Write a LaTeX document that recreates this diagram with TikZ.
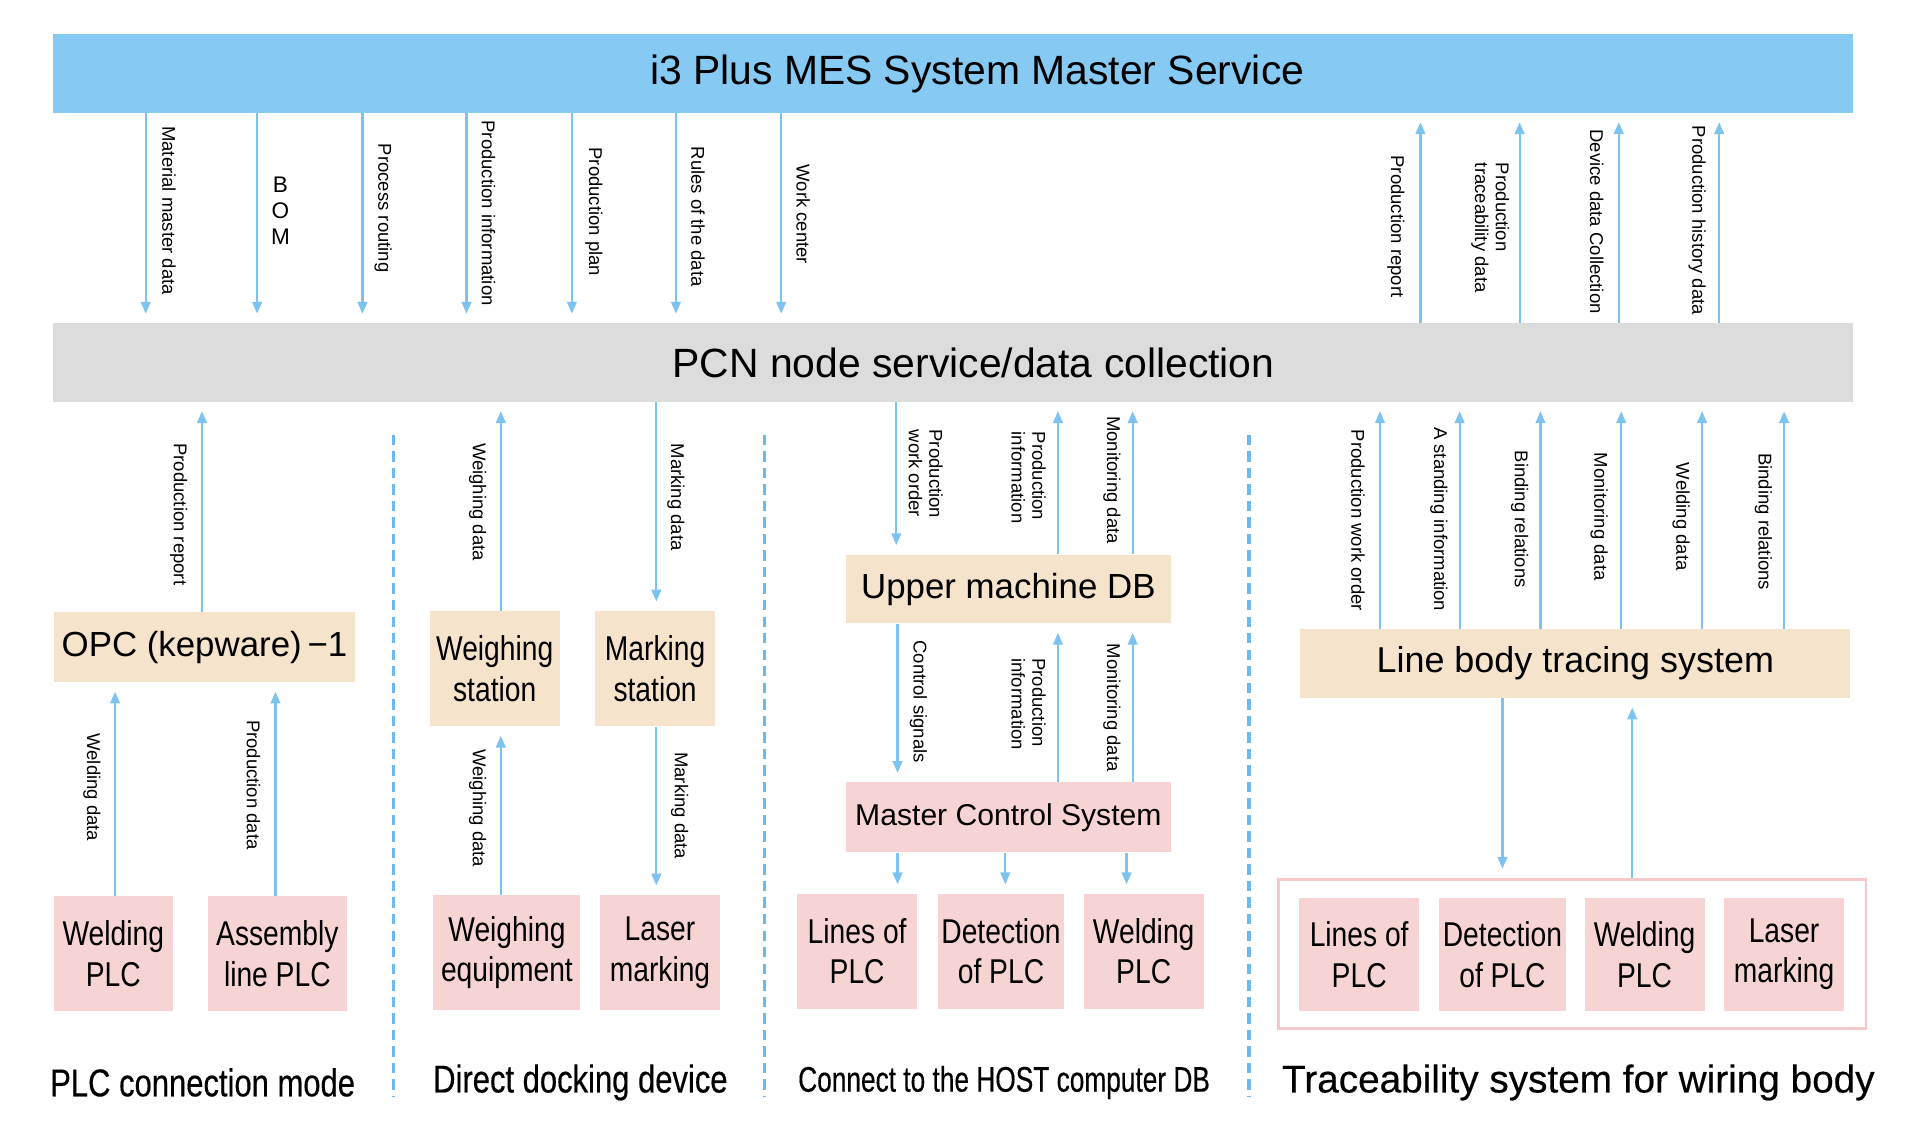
\documentclass[tikz,border=0pt]{standalone}
\usepackage{fontspec}
\setmainfont{Liberation Sans}
\newfontfamily\condfont[FakeStretch=0.82]{Liberation Sans}
\newfontfamily\condcap[FakeStretch=0.8,FakeBold=0.4]{Liberation Sans}
\newfontfamily\condcapB[FakeStretch=0.74,FakeBold=0.4]{Liberation Sans}
\newfontfamily\wcap[FakeBold=0.4]{Liberation Sans}
\usetikzlibrary{arrows.meta}
\definecolor{topblue}{HTML}{86C9F2}
\definecolor{arrowblue}{HTML}{7CC3F0}
\definecolor{pcngray}{HTML}{DCDCDC}
\definecolor{beigefill}{HTML}{F5E3CC}
\definecolor{pinkfill}{HTML}{F7D4D4}
\definecolor{pinkline}{HTML}{F5C8C9}
\definecolor{dashblue}{HTML}{6FB8EC}
\tikzset{
  arr/.style={draw=arrowblue, line width=1pt, -{Triangle[length=5.5pt,width=4.5pt]}, shorten >=0.15cm},
  bar/.style={inner sep=0pt, minimum width=29.4cm, minimum height=1.28cm, font=\fontsize{19}{22}\selectfont},
  wbox/.style={inner sep=0pt, fill=beigefill, align=center, font=\fontsize{16.2}{19}\selectfont},
  cbox/.style={inner sep=0pt, align=center, font=\condfont\fontsize{16}{18.8}\selectfont},
  bbox/.style={cbox, fill=beigefill},
  pbox/.style={cbox, fill=pinkfill},
  lbl/.style={inner sep=0pt, rotate=-90, align=left, font=\fontsize{8.6}{9.6}\selectfont},
  sepline/.style={draw=dashblue, line width=1.4pt, dash pattern=on 0.17cm off 0.1cm},
  captxt/.style={inner sep=0pt, font=\condcap\fontsize{18}{21}\selectfont},
}
\begin{document}
\begin{tikzpicture}[x=0.02cm,y=-0.02cm]
\useasboundingbox (0,0) rectangle (1568,930);
% bars
\node[bar, fill=topblue] (top) at (778,60) {\hspace*{0.8cm}i3 Plus MES System Master Service};
\node[bar, fill=pcngray] (pcn) at (778,296) {\hspace*{0.68cm}PCN node service/data collection};

% top down arrows
\foreach \x in {119,210,296,381,467,552,638}
  \draw[arr] (top.south -| \x,0) -- (pcn.north -| \x,0);
\foreach \x in {1160,1241,1322,1404}
  \draw[arr] (pcn.north -| \x,0) -- (top.south -| \x,0);

\node[lbl] (l1) at (138,172) {Material master data};
\node[inner sep=0pt, align=center, font=\fontsize{10.5}{12}\selectfont] (l2) at (229,172) {B\\O\\M};
\node[lbl] (l3) at (313,170) {Process routing};
\node[lbl] (l4) at (399,174) {Production information};
\node[lbl] (l5) at (485,173) {Production plan};
\node[lbl] (l6) at (570,177) {Rules of the data};
\node[lbl] (l7) at (656,175) {Work center};
\node[lbl] (l8) at (1140,185) {Production report};
\node[lbl] (l9) at (1217,186) {Production\\traceability data};
\node[lbl] (l10) at (1304,181) {Device data Collection};
\node[lbl] (l11) at (1386,180) {Production history data};

% separators
\draw[sepline] (321,355) -- (321,895);
\draw[sepline] (624,355) -- (624,895);
\draw[sepline] (1020,355) -- (1020,895);

% section 1
\node[wbox, minimum width=4.92cm, minimum height=1.14cm] (opc) at (167,528.5) {OPC (kepware)\,−1};
\node[pbox, minimum width=1.94cm, minimum height=1.88cm] (wplc) at (92.5,779) {Welding\\PLC};
\node[pbox, minimum width=2.26cm, minimum height=1.88cm] (aplc) at (226.5,779) {Assembly\\line PLC};
\draw[arr] (opc.north -| 165,0) -- (pcn.south -| 165,0);
\draw[arr] (wplc.north -| 94,0) -- (opc.south -| 94,0);
\draw[arr] (aplc.north -| 225,0) -- (opc.south -| 225,0);
\node[lbl] at (146,420) {Production report};
\node[lbl] at (75,643) {Welding data};
\node[lbl] at (207,641) {Production data};
\node[captxt] (c1) at (165.5,884) {PLC connection mode};

% section 2
\node[bbox, minimum width=2.12cm, minimum height=1.88cm] (wst) at (404,546) {Weighing\\station};
\node[bbox, minimum width=1.96cm, minimum height=1.88cm] (mst) at (535,546) {Marking\\station};
\node[pbox, minimum width=2.4cm, minimum height=1.88cm] (weq) at (414,778) {Weighing\\equipment};
\node[pbox, minimum width=1.96cm, minimum height=1.88cm] (lm) at (539,778) {Laser\\marking};
\draw[arr] (wst.north -| 409,0) -- (pcn.south -| 409,0);
\draw[arr] (pcn.south -| 536,0) -- (mst.north -| 536,0);
\draw[arr] (weq.north -| 409,0) -- (wst.south -| 409,0);
\draw[arr] (mst.south -| 536,0) -- (lm.north -| 536,0);
\node[lbl] at (390,410) {Weighing data};
\node[lbl] at (552,406) {Marking data};
\node[lbl] at (390,660) {Weighing data};
\node[lbl] at (555,658) {Marking data};
\node[captxt] (c2) at (474,884) {Direct docking device};

% section 3
\node[wbox, minimum width=5.3cm, minimum height=1.12cm] (udb) at (823.5,481) {Upper machine DB};
\node[inner sep=0pt, fill=pinkfill, minimum width=5.3cm, minimum height=1.14cm, font=\fontsize{14}{17}\selectfont] (mcs) at (823.5,667.5) {Master Control System};
\node[pbox, minimum width=1.96cm, minimum height=1.88cm] (lp3) at (700,777) {Lines of\\PLC};
\node[pbox, minimum width=2.06cm, minimum height=1.88cm] (dp3) at (817.5,777) {Detection\\of PLC};
\node[pbox, minimum width=1.96cm, minimum height=1.88cm] (wp3) at (934,777) {Welding\\PLC};
\draw[arr] (pcn.south -| 732,0) -- (udb.north -| 732,0);
\draw[arr] (udb.north -| 864,0) -- (pcn.south -| 864,0);
\draw[arr] (udb.north -| 925,0) -- (pcn.south -| 925,0);
\draw[arr] (udb.south -| 733,0) -- (mcs.north -| 733,0);
\draw[arr] (mcs.north -| 864,0) -- (udb.south -| 864,0);
\draw[arr] (mcs.north -| 925,0) -- (udb.south -| 925,0);
\draw[arr] (mcs.south -| 733,0) -- (lp3.north -| 733,0);
\draw[arr] (mcs.south -| 821,0) -- (dp3.north -| 821,0);
\draw[arr] (mcs.south -| 920,0) -- (wp3.north -| 920,0);
\node[lbl] at (756,387) {Production\\work order};
\node[lbl] at (840,390) {Production\\information};
\node[lbl] at (908,392) {Monitoring data};
\node[lbl] at (750,573) {Control signals};
\node[lbl] at (840,575) {Production\\information};
\node[lbl] at (908,578) {Monitoring data};
\node[inner sep=0pt, font=\condcapB\fontsize{16.5}{20}\selectfont] (c3) at (820,884) {Connect to the HOST computer DB};

% section 4
\node[wbox, minimum width=8.98cm, minimum height=1.12cm, font=\fontsize{16.7}{20}\selectfont] (lbts) at (1286.5,542) {Line body tracing system};
\node[draw=pinkline, line width=1.3pt, minimum width=9.6cm, minimum height=2.44cm, inner sep=0pt] (grp) at (1284,779) {};
\node[pbox, minimum width=1.96cm, minimum height=1.86cm] (lp4) at (1110,779.5) {Lines of\\PLC};
\node[pbox, minimum width=2.08cm, minimum height=1.86cm] (dp4) at (1227,779.5) {Detection\\of PLC};
\node[pbox, minimum width=1.96cm, minimum height=1.86cm] (wp4) at (1343,779.5) {Welding\\PLC};
\node[pbox, minimum width=1.96cm, minimum height=1.86cm] (lm4) at (1457,779.5) {Laser\\marking};
\foreach \x in {1127,1192,1258,1324,1390,1457}
  \draw[arr] (lbts.north -| \x,0) -- (pcn.south -| \x,0);
\draw[arr] (lbts.south -| 1227,0) -- (grp.north -| 1227,0);
\draw[arr] (grp.north -| 1333,0) -- (lbts.south -| 1333,0);
\node[lbl] at (1109,425) {Production work order};
\node[lbl] at (1175,424) {A standing information};
\node[lbl] at (1241,424) {Binding relations};
\node[lbl] at (1306,422) {Monitoring data};
\node[lbl] at (1373,422) {Welding data};
\node[lbl] at (1440,426) {Binding relations};
\node[inner sep=0pt, font=\wcap\fontsize{18}{21}\selectfont] (c4) at (1289,884) {Traceability system for wiring body};
\end{tikzpicture}
\end{document}
